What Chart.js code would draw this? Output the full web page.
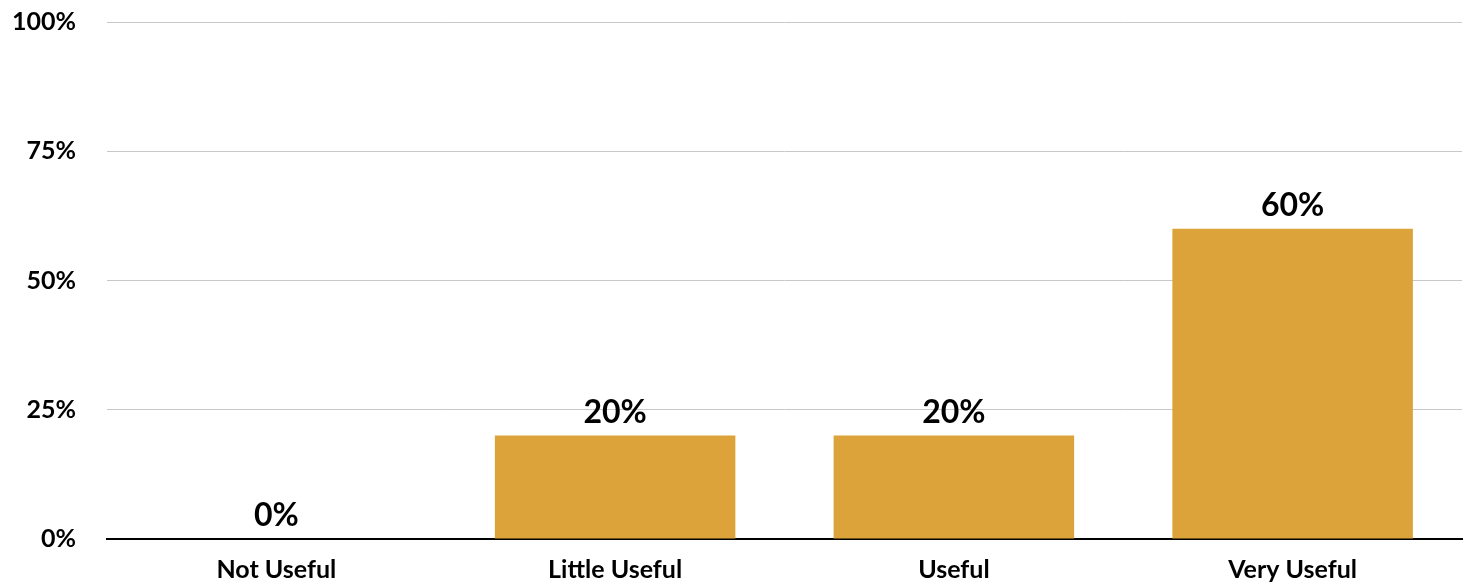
<!DOCTYPE html>
<html>
<head>
<meta charset="utf-8">
<script src="https://cdn.jsdelivr.net/npm/chart.js@4"></script>
<style>
  html, body { margin: 0; padding: 0; background: #fff; overflow: hidden; }
  #frame { width: 1472px; height: 585px; overflow: hidden; position: relative; }
  #wrap { position: absolute; left: 0; top: -24px; width: 1472px; height: 609px; }
</style>
</head>
<body>
<div id="frame"><div id="wrap"><canvas id="usefulness-bar"></canvas></div></div>
<script>
var categories = ['Not Useful', 'Little Useful', 'Useful', 'Very Useful'];
var shares = [0, 20, 20, 60];
var tick_values = [0, 25, 50, 75, 100];

var fontFamily = 'Lato, "DejaVu Sans", sans-serif';

// draws the "60%" style labels above each bar
var valueLabels = {
    id: 'valueLabels',
    afterDatasetsDraw: function(chart) {
        var ctx = chart.ctx;
        var meta = chart.getDatasetMeta(0);
        ctx.save();
        ctx.font = 'bold 32px ' + fontFamily;
        ctx.fillStyle = '#000';
        ctx.textAlign = 'center';
        ctx.textBaseline = 'alphabetic';
        meta.data.forEach(function(bar, i) {
            ctx.fillText(shares[i] + '%', bar.x, bar.y - 13);
        });
        ctx.restore();
    }
};

var ctx = document.getElementById('usefulness-bar');
var barChart = new Chart(ctx, {
    type: 'bar',
    data: {
        labels: categories,
        datasets: [{
            label: 'Share',
            data: shares,
            backgroundColor: '#DCA33A',
            borderWidth: 0,
            barPercentage: 0.71,
            categoryPercentage: 1
        }]
    },
    options: {
        responsive: true,
        maintainAspectRatio: false,
        animation: false,
        layout: {
            padding: { top: 0, right: 10, left: 0, bottom: 0 }
        },
        plugins: {
            legend: { display: false },
            tooltip: { enabled: false }
        },
        scales: {
            x: {
                grid: { display: false, drawTicks: false },
                border: { display: true, color: '#000', width: 2 },
                ticks: {
                    color: '#000',
                    padding: 16,
                    maxRotation: 0,
                    font: { family: fontFamily, size: 25, weight: 'bold' }
                },
                afterFit: function(scale) { scale.height = 45; }
            },
            y: {
                min: 0,
                max: 100,
                afterBuildTicks: function(scale) {
                    scale.ticks = tick_values.map(function(v) { return { value: v }; });
                },
                grid: { color: '#C8C8C8', lineWidth: 1, drawTicks: false },
                border: { display: false },
                ticks: {
                    color: '#000',
                    padding: 31,
                    font: { family: fontFamily, size: 25, weight: 'bold' },
                    callback: function(v) { return v + '%'; }
                },
                afterFit: function(scale) { scale.width = 107; }
            }
        }
    },
    plugins: [valueLabels]
});
</script>
</body>
</html>
